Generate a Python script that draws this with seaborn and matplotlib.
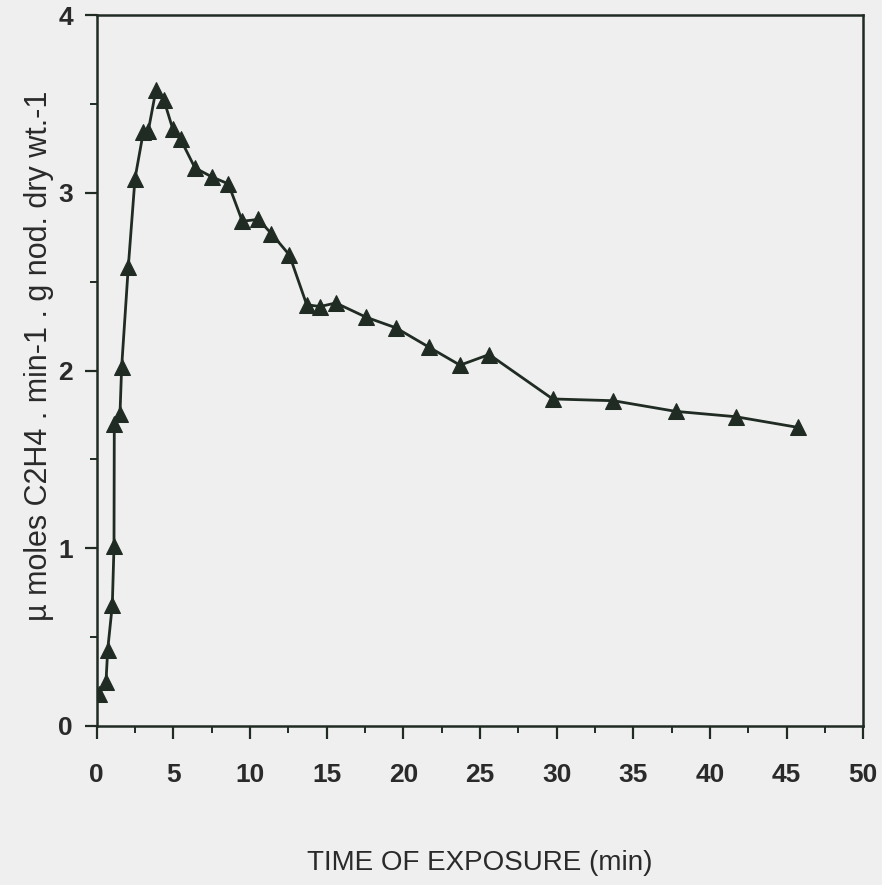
import matplotlib
matplotlib.use("Agg")
import matplotlib.pyplot as plt
import seaborn as sns
import pandas as pd
from matplotlib.ticker import MultipleLocator

time_min = [0.17, 0.61, 0.72, 1.02, 1.13, 1.15, 1.52, 1.63, 2.06, 2.5, 3.04, 3.37,
            3.87, 4.39, 4.96, 5.48, 6.41, 7.5, 8.59, 9.5, 10.54, 11.4, 12.57, 13.7,
            14.57, 15.6, 17.57, 19.52, 21.7, 23.7, 25.6, 29.74, 33.7, 37.77, 41.68, 45.73]
rate = [0.18, 0.25, 0.43, 0.68, 1.01, 1.70, 1.755, 2.02, 2.58, 3.08, 3.34, 3.35,
        3.58, 3.52, 3.36, 3.30, 3.14, 3.09, 3.05, 2.84, 2.85, 2.77, 2.65, 2.37,
        2.36, 2.38, 2.30, 2.24, 2.13, 2.03, 2.09, 1.84, 1.83, 1.77, 1.74, 1.68]
x_ticks = [0, 5, 10, 15, 20, 25, 30, 35, 40, 45, 50]
y_ticks = [0, 1, 2, 3, 4]

df = pd.DataFrame({"t": time_min, "r": rate})

sns.set_style("ticks")
plt.rcParams["font.family"] = ["Liberation Sans", "DejaVu Sans"]

bg = "#efefef"
ink = "#1f2b23"

fig = plt.figure(figsize=(8.82, 8.85), dpi=100, facecolor=bg)
ax = fig.add_axes([0.1096, 0.1797, 0.8692, 0.8033])
ax.set_facecolor(bg)

sns.lineplot(data=df, x="t", y="r", ax=ax, sort=False, color=ink,
             marker="^", markersize=11, markeredgecolor=ink, linewidth=2.0)

ax.set_xlim(0, 50)
ax.set_ylim(0, 4)
ax.set_xticks(x_ticks)
ax.set_yticks(y_ticks)
ax.xaxis.set_minor_locator(MultipleLocator(2.5))
ax.yaxis.set_minor_locator(MultipleLocator(0.5))

for s in ax.spines.values():
    s.set_linewidth(1.8)
    s.set_color(ink)

ax.tick_params(axis="both", which="major", direction="out", length=9, width=1.6,
               color=ink, labelsize=19, labelcolor="#2a2a2a")
ax.tick_params(axis="both", which="minor", direction="out", length=5, width=1.4, color=ink)
ax.tick_params(axis="x", which="major", pad=18)
ax.tick_params(axis="y", which="major", pad=8)
for lab in ax.get_xticklabels() + ax.get_yticklabels():
    lab.set_fontweight("bold")

ax.set_xlabel("TIME OF EXPOSURE (min)", fontsize=20, color="#2a2a2a", labelpad=45)
ax.set_ylabel("µ moles C2H4 . min-1 . g nod. dry wt.-1", fontsize=22, color="#2a2a2a")
ax.yaxis.set_label_coords(-0.056, 0.52)

fig.savefig("out.png", dpi=100, facecolor=bg)
